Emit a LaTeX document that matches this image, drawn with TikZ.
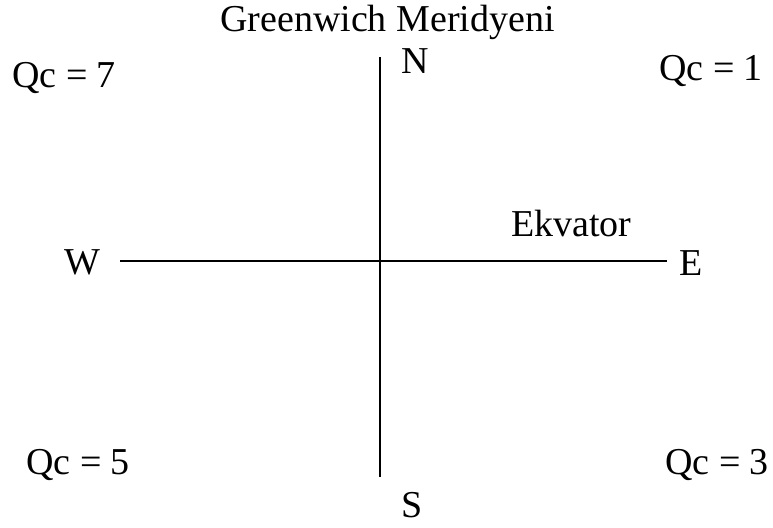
\documentclass[tikz,border=0pt]{standalone}
\usepackage{fontspec}
\setmainfont{Liberation Serif}
\usetikzlibrary{positioning}

\begin{document}
\begin{tikzpicture}[
    x=1pt, y=-1pt,
    font=\fontsize{38}{42}\selectfont,
    lbl/.style={inner sep=0pt, anchor=base west},
    axis/.style={draw=black, line width=1.4pt}
]
  \useasboundingbox (0,0) rectangle (773,527);

  % Axis ends
  \coordinate (ntop) at (380,57);
  \coordinate (sbot) at (380,477);
  \coordinate (wend) at (120,261);
  \coordinate (eend) at (667,261);

  % Axes
  \draw[axis] (ntop) -- (sbot);
  \draw[axis] (wend) -- (eend);

  % Labels
  \node[lbl] (merid) at (220,32) {Greenwich Meridyeni};
  \node[lbl] (north) at (401,74) {N};
  \node[lbl] (south) at (401,517) {S};
  \node[lbl] (west) at (64,274) {W};
  \node[lbl] (east) at (679,275) {E};
  \node[lbl] (ekv) at (511,236) {Ekvator};

  % Quadrants
  \node[lbl] (q7) at (12,87) {Qc = 7};
  \node[lbl] (q1) at (659,81) {Qc = 1};
  \node[lbl] (q5) at (26,474) {Qc = 5};
  \node[lbl] (q3) at (665,474) {Qc = 3};
\end{tikzpicture}
\end{document}
